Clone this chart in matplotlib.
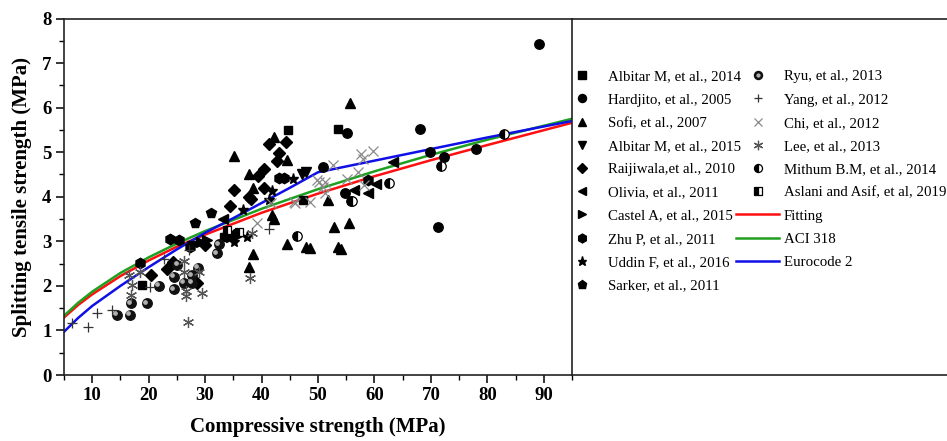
import matplotlib
matplotlib.use("Agg")
import matplotlib.pyplot as plt
from matplotlib.transforms import offset_copy
from matplotlib.legend_handler import HandlerTuple

plt.rcParams["font.family"] = ["Liberation Serif", "DejaVu Serif"]

# ---- data (compressive MPa, splitting tensile MPa) ----
albitar14_x = [18.8, 33.3, 44.7, 47.4, 53.6]
albitar14_y = [2.03, 3.09, 5.49, 3.92, 5.53]

hardjito_x = [50.8, 54.8, 55.2, 68.1, 69.9, 71.3, 72.3, 78.0, 89.2]
hardjito_y = [4.67, 4.09, 5.43, 5.51, 5.01, 3.31, 4.90, 5.08, 7.42]

sofi_x = [35.2, 37.7, 38.5, 42.2, 44.5, 41.9, 42.2, 37.7, 38.5, 44.5,
          47.9, 48.6, 52.8, 53.6, 54.1, 55.5, 55.6, 51.8]
sofi_y = [4.91, 4.52, 4.19, 5.33, 4.82, 3.59, 3.50, 2.43, 2.71, 2.93,
          2.88, 2.84, 3.31, 2.88, 2.82, 3.42, 6.11, 3.92]

albitar15_x = [27.7, 47.2, 47.9]
albitar15_y = [2.89, 4.52, 4.55]

raijiwala_x = [20.4, 23.2, 24.3, 28.6, 30.0, 34.4, 35.1, 35.1, 37.7, 38.2,
               39.3, 40.4, 40.4, 41.3, 42.7, 43.1, 44.4]
raijiwala_y = [2.24, 2.38, 2.54, 2.06, 2.91, 3.79, 4.16, 3.14, 4.00, 3.95,
               4.46, 4.62, 4.19, 5.18, 4.80, 4.98, 5.23]

olivia_x = [33.1, 56.4, 58.8, 60.2, 63.2]
olivia_y = [3.50, 4.15, 4.09, 4.28, 4.78]

castel_x = [29.2, 30.3, 34.5, 36.0]
castel_y = [2.99, 3.03, 3.10, 3.14]

zhu_x = [18.5, 23.8, 25.3, 27.4, 43.1, 44.0, 58.8]
zhu_y = [2.52, 3.06, 3.03, 2.88, 4.42, 4.42, 4.37]

uddin_x = [33.8, 35.1, 36.7, 37.4, 41.3, 41.9, 45.5]
uddin_y = [3.15, 2.99, 3.70, 3.10, 3.92, 4.13, 4.39]

sarker_x = [28.2, 31.1]
sarker_y = [3.40, 3.63]

ryu_x = [14.4, 16.7, 16.8, 19.7, 21.8, 24.4, 24.5, 25.1, 26.2, 27.7,
         27.7, 28.7, 32.1, 32.4]
ryu_y = [1.35, 1.35, 1.61, 1.61, 2.00, 1.92, 2.20, 2.47, 2.07, 2.24,
         2.07, 2.41, 2.73, 2.93]

yang_x = [6.4, 9.3, 10.8, 13.5, 20.3, 22.7, 27.1, 41.3]
yang_y = [1.16, 1.07, 1.40, 1.46, 1.97, 2.60, 2.80, 3.27]

chi_x = [39.2, 41.7, 45.7, 46.0, 48.6, 49.9, 50.2, 50.8, 51.2, 51.2,
         52.7, 55.2, 57.1, 57.6, 57.9, 58.2, 59.7]
chi_y = [3.40, 3.85, 3.89, 3.85, 3.89, 4.37, 4.33, 4.22, 4.09, 4.33,
         4.71, 4.39, 4.56, 4.97, 4.84, 4.26, 5.03]

lee_x = [16.6, 17.0, 16.8, 18.4, 26.2, 26.2, 26.7, 26.7, 26.9, 29.0,
         29.5, 38.0, 38.3]
lee_y = [2.24, 2.02, 1.79, 2.32, 2.56, 2.32, 1.89, 1.77, 1.20, 2.32,
         1.85, 2.17, 3.18]

mithum_x = [46.2, 55.8, 56.1, 62.6, 71.8, 83.0]
mithum_y = [3.11, 3.90, 3.90, 4.30, 4.69, 5.40]

aslani_x = [33.9, 36.0]
aslani_y = [3.25, 3.20]

fit_x = [5, 7.5, 10, 15, 20, 25, 30, 40, 50, 60, 70, 80, 95]
fit_y = [1.29, 1.57, 1.81, 2.22, 2.57, 2.88, 3.15, 3.64, 4.07, 4.46, 4.82, 5.16, 5.66]

aci_x = [5, 7.5, 10, 15, 20, 25, 30, 40, 50, 60, 70, 80, 95]
aci_y = [1.33, 1.62, 1.87, 2.29, 2.64, 2.95, 3.23, 3.73, 4.17, 4.57, 4.94, 5.28, 5.75]

ec2_x = [5, 7.5, 10, 15, 20, 25, 30, 35, 40, 45, 50, 60, 70, 80, 95]
ec2_y = [0.97, 1.28, 1.55, 2.00, 2.42, 2.82, 3.19, 3.52, 3.86, 4.20, 4.55,
         4.81, 5.07, 5.33, 5.70]

fig = plt.figure(figsize=(9.47, 4.41), dpi=100)
ax = fig.add_axes([64 / 947, 1 - 375 / 441, (572 - 64) / 947, (375 - 18.5) / 441])

ms = 6.8
l_fit, = ax.plot(fit_x, fit_y, color="#ff1010", lw=1.8, zorder=2)
l_aci, = ax.plot(aci_x, aci_y, color="#20a020", lw=1.8, zorder=2)
l_ec2, = ax.plot(ec2_x, ec2_y, color="#1010e6", lw=1.8, zorder=2)


def pts(x, y, marker, **kw):
    style = dict(ls="none", marker=marker, ms=ms, color="black", zorder=3)
    style.update(kw)
    line, = ax.plot(x, y, **style)
    return line


h_alb14 = pts(albitar14_x, albitar14_y, "s", ms=6.3)
h_hard = pts(hardjito_x, hardjito_y, "o")
h_sofi = pts(sofi_x, sofi_y, "^", ms=7.5)
h_alb15 = pts(albitar15_x, albitar15_y, "v", ms=7.5)
h_raij = pts(raijiwala_x, raijiwala_y, "D", ms=6)
h_oliv = pts(olivia_x, olivia_y, "<", ms=7.5)
h_cast = pts(castel_x, castel_y, ">", ms=7.5)
h_zhu = pts(zhu_x, zhu_y, "h", ms=7.5)
h_udd = pts(uddin_x, uddin_y, "*", ms=8)
h_sark = pts(sarker_x, sarker_y, "p", ms=7.5)

h_ryu = pts(ryu_x, ryu_y, "o", color="#111111")
shine = offset_copy(ax.transData, fig=fig, x=-1.2, y=1.2, units="points")
h_ryu2, = ax.plot(ryu_x, ryu_y, ls="none", marker="o", ms=2.4, color="#b0b0b0",
                  transform=shine, zorder=4)
h_yang = pts(yang_x, yang_y, "+", ms=7, color="#333333", mew=0.9)
h_chi = pts(chi_x, chi_y, "x", ms=7.5, color="#8a8a8a", mew=0.9)
h_lee = pts(lee_x, lee_y, (6, 2, 0), ms=8, color="#555555", mew=0.9)
h_mit = pts(mithum_x, mithum_y, "o", fillstyle="left", markerfacecolor="black",
            markerfacecoloralt="white", markeredgecolor="black", mew=0.9)
h_asl = pts(aslani_x, aslani_y, "s", ms=6.3, fillstyle="left", markerfacecolor="black",
            markerfacecoloralt="white", markeredgecolor="black", mew=0.9)

ax.set_xlim(5, 95)
ax.set_ylim(0, 8)
ax.set_xticks(range(10, 91, 10))
ax.set_xticks(range(5, 96, 5), minor=True)
ax.set_yticks(range(0, 9))
ax.set_yticks([v / 2 for v in range(0, 17)], minor=True)
ax.tick_params(which="major", direction="out", length=6, width=1.1, labelsize=13.5,
               top=False, right=False, pad=3)
ax.tick_params(which="minor", direction="out", length=3.5, width=1.0,
               top=False, right=False)
for lab in ax.get_xticklabels() + ax.get_yticklabels():
    lab.set_fontweight("bold")
for sp in ax.spines.values():
    sp.set_linewidth(1.2)
    sp.set_color("#222222")

ax.set_xlabel("Compressive strength (MPa)", fontsize=15, fontweight="bold", labelpad=9)
ax.set_ylabel("Splitting tensile strength (MPa)", fontsize=15, fontweight="bold", labelpad=7)

# legend panel to the right of the plot
lax = fig.add_axes([572 / 947, 1 - 375 / 441, 1 - 572 / 947, (375 - 18.5) / 441])
lax.set_xticks([])
lax.set_yticks([])
lax.spines["left"].set_visible(False)
lax.spines["right"].set_visible(False)
for sp in ("top", "bottom"):
    lax.spines[sp].set_linewidth(1.2)
    lax.spines[sp].set_color("#222222")
lax.patch.set_alpha(0)

left_handles = [h_alb14, h_hard, h_sofi, h_alb15, h_raij, h_oliv, h_cast, h_zhu, h_udd, h_sark]
left_labels = ["Albitar M, et al., 2014", "Hardjito, et al., 2005", "Sofi, et al., 2007",
               "Albitar M, et al., 2015", "Raijiwala,et al., 2010", "Olivia, et al., 2011",
               "Castel A, et al., 2015", "Zhu P, et al., 2011", "Uddin F, et al., 2016",
               "Sarker, et al., 2011"]
right_handles = [(h_ryu, h_ryu2), h_yang, h_chi, h_lee, h_mit, h_asl, l_fit, l_aci, l_ec2]
right_labels = ["Ryu, et al., 2013", "Yang, et al., 2012", "Chi, et al., 2012",
                "Lee, et al., 2013", "Mithum B.M, et al., 2014", "Aslani and Asif, et al, 2019",
                "Fitting", "ACI 318", "Eurocode 2"]

common = dict(frameon=False, fontsize=10.7, borderpad=0, borderaxespad=0,
              handlelength=2.9, handletextpad=0.3, labelspacing=0.66, loc="upper left",
              markerscale=0.85)
leg1 = fig.legend(left_handles, left_labels, bbox_to_anchor=(560 / 947, 1 - 70 / 441),
                  **common)
fig.legend(right_handles, right_labels, bbox_to_anchor=(736 / 947, 1 - 70 / 441),
           handler_map={tuple: HandlerTuple(ndivide=1)}, **common)

fig.savefig("out.png", dpi=100)
